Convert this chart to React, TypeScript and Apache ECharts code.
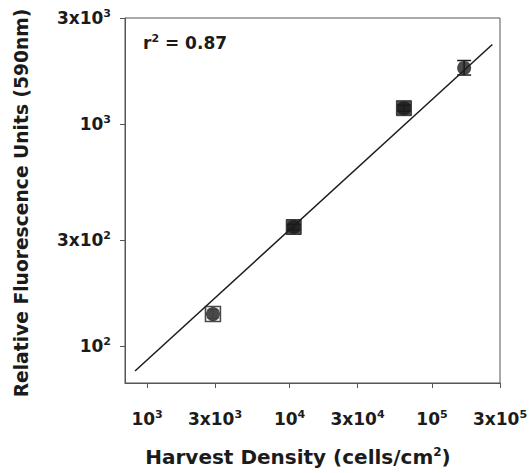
import React, { useEffect, useRef } from "react";
import * as echarts from "echarts";

// Data (raw units, plotted on log10 scales)
const densities = [2900, 10700, 63500, 168000];
const fluorescence = [139, 343, 1177, 1787];
const errLow = [133, 333, 1140, 1660];
const errHigh = [146, 353, 1215, 1930];
const fitX = [823, 265000];
const fitY = [77, 2280];

const xTicks = [1e3, 3e3, 1e4, 3e4, 1e5, 3e5];
const xTickMant = ["", "3x", "", "3x", "", "3x"];
const xTickExp = ["3", "3", "4", "4", "5", "5"];
const yTicks = [1e2, 3e2, 1e3, 3e3];
const yTickMant = ["", "3x", "", "3x"];
const yTickExp = ["2", "2", "3", "3"];

const xMin = 700;
const xMax = 3e5;
const yMin = 68;
const yMax = 3e3;

const FONT = "'DejaVu Sans', 'Liberation Sans', Arial, sans-serif";
const INK = "#1b1b1b";
const lg = (v: number) => Math.log10(v);

function makeFormatter(ticks: number[], mant: string[], exp: string[]) {
  return (value: number) => {
    const i = ticks.findIndex((t) => Math.abs(lg(t) - value) < 1e-6);
    if (i < 0) return "";
    return `{n|${mant[i]}10}{s|${exp[i]}}`;
  };
}

const richLabel = {
  n: { fontSize: 17, fontWeight: "bold", fontFamily: FONT, color: INK },
  s: { fontSize: 11, fontWeight: "bold", fontFamily: FONT, color: INK, padding: [0, 0, 9, 0] },
};

export default function App() {
  const ref = useRef<HTMLDivElement>(null);
  useEffect(() => {
    if (!ref.current) return;
    const chart = echarts.init(ref.current, null, { renderer: "svg" });
    const pts = densities.map((d, i) => [lg(d), lg(fluorescence[i])]);
    const squareStyles = [
      { color: "#ffffff", borderColor: INK, borderWidth: 1.5 },
      { color: INK, borderColor: INK, borderWidth: 1 },
      { color: INK, borderColor: INK, borderWidth: 1 },
      { color: "rgba(0,0,0,0)", borderColor: "rgba(0,0,0,0)", borderWidth: 0 },
    ];
    const option: any = {
      animation: false,
      backgroundColor: "#ffffff",
      grid: {
        left: 125,
        right: 31,
        top: 18,
        bottom: 90,
        show: true,
        borderColor: "#555",
        borderWidth: 1,
        backgroundColor: "transparent",
      },
      xAxis: {
        type: "value",
        min: lg(xMin),
        max: lg(xMax),
        splitLine: { show: false },
        axisLine: { show: true, lineStyle: { color: "#555", width: 1 } },
        axisTick: {
          show: true,
          length: 5,
          inside: false,
          customValues: xTicks.map(lg),
          lineStyle: { color: "#555" },
        },
        axisLabel: {
          customValues: xTicks.map(lg),
          formatter: makeFormatter(xTicks, xTickMant, xTickExp),
          rich: richLabel,
          margin: 26,
          showMinLabel: true,
          showMaxLabel: true,
        },
      },
      yAxis: {
        type: "value",
        min: lg(yMin),
        max: lg(yMax),
        splitLine: { show: false },
        axisLine: { show: true, lineStyle: { color: "#555", width: 1 } },
        axisTick: {
          show: true,
          length: 5,
          inside: false,
          customValues: yTicks.map(lg),
          lineStyle: { color: "#555" },
        },
        axisLabel: {
          customValues: yTicks.map(lg),
          formatter: makeFormatter(yTicks, yTickMant, yTickExp),
          rich: richLabel,
          margin: 14,
          showMinLabel: true,
          showMaxLabel: true,
        },
      },
      graphic: [
        {
          type: "text",
          left: 143,
          top: 33,
          style: {
            text: "{r|r}{s|2}{r| = 0.87}",
            rich: {
              r: { fontSize: 17, fontWeight: "bold", fontFamily: FONT, fill: INK },
              s: { fontSize: 11, fontWeight: "bold", fontFamily: FONT, fill: INK, padding: [0, 0, 9, 0] },
            },
          },
        },
        {
          type: "text",
          x: 298,
          y: 457,
          style: {
            text: "{t|Harvest Density (cells/cm}{s|2}{t|)}",
            align: "center",
            verticalAlign: "middle",
            rich: {
              t: { fontSize: 20, fontWeight: "bold", fontFamily: FONT, fill: INK },
              s: { fontSize: 12, fontWeight: "bold", fontFamily: FONT, fill: INK, padding: [0, 0, 10, 0] },
            },
          },
        },
        {
          type: "text",
          x: 21,
          y: 203,
          rotation: Math.PI / 2,
          style: {
            text: "Relative Fluorescence Units (590nm)",
            align: "center",
            verticalAlign: "middle",
            fontSize: 18.7,
            fontWeight: "bold",
            fontFamily: FONT,
            fill: INK,
          },
        },
      ],
      series: [
        {
          type: "line",
          data: fitX.map((x, i) => [lg(x), lg(fitY[i])]),
          showSymbol: false,
          symbol: "none",
          lineStyle: { color: INK, width: 1.5 },
          z: 2,
        },
        {
          type: "custom",
          renderItem: (params: any, api: any) => {
            const x = api.value(0);
            const lo = api.coord([x, api.value(1)]);
            const hi = api.coord([x, api.value(2)]);
            const w = 7;
            const st = { stroke: INK, lineWidth: 1.5 };
            return {
              type: "group",
              children: [
                { type: "line", shape: { x1: lo[0], y1: lo[1], x2: hi[0], y2: hi[1] }, style: st },
                { type: "line", shape: { x1: lo[0] - w, y1: lo[1], x2: lo[0] + w, y2: lo[1] }, style: st },
                { type: "line", shape: { x1: hi[0] - w, y1: hi[1], x2: hi[0] + w, y2: hi[1] }, style: st },
              ],
            };
          },
          data: densities.map((d, i) => [lg(d), lg(errLow[i]), lg(errHigh[i])]),
          z: 3,
        },
        {
          type: "scatter",
          symbol: "rect",
          symbolSize: 15,
          data: pts.map((p, i) => ({ value: p, itemStyle: squareStyles[i] })),
          z: 4,
        },
        {
          type: "scatter",
          symbol: "circle",
          symbolSize: 14,
          data: pts,
          itemStyle: { color: INK },
          z: 5,
        },
      ],
    };
    chart.setOption(option);
    return () => chart.dispose();
  }, []);
  return (
    <div
      ref={ref}
      style={{ position: "fixed", left: 0, top: 0, width: 531, height: 473, background: "#fff" }}
    />
  );
}
